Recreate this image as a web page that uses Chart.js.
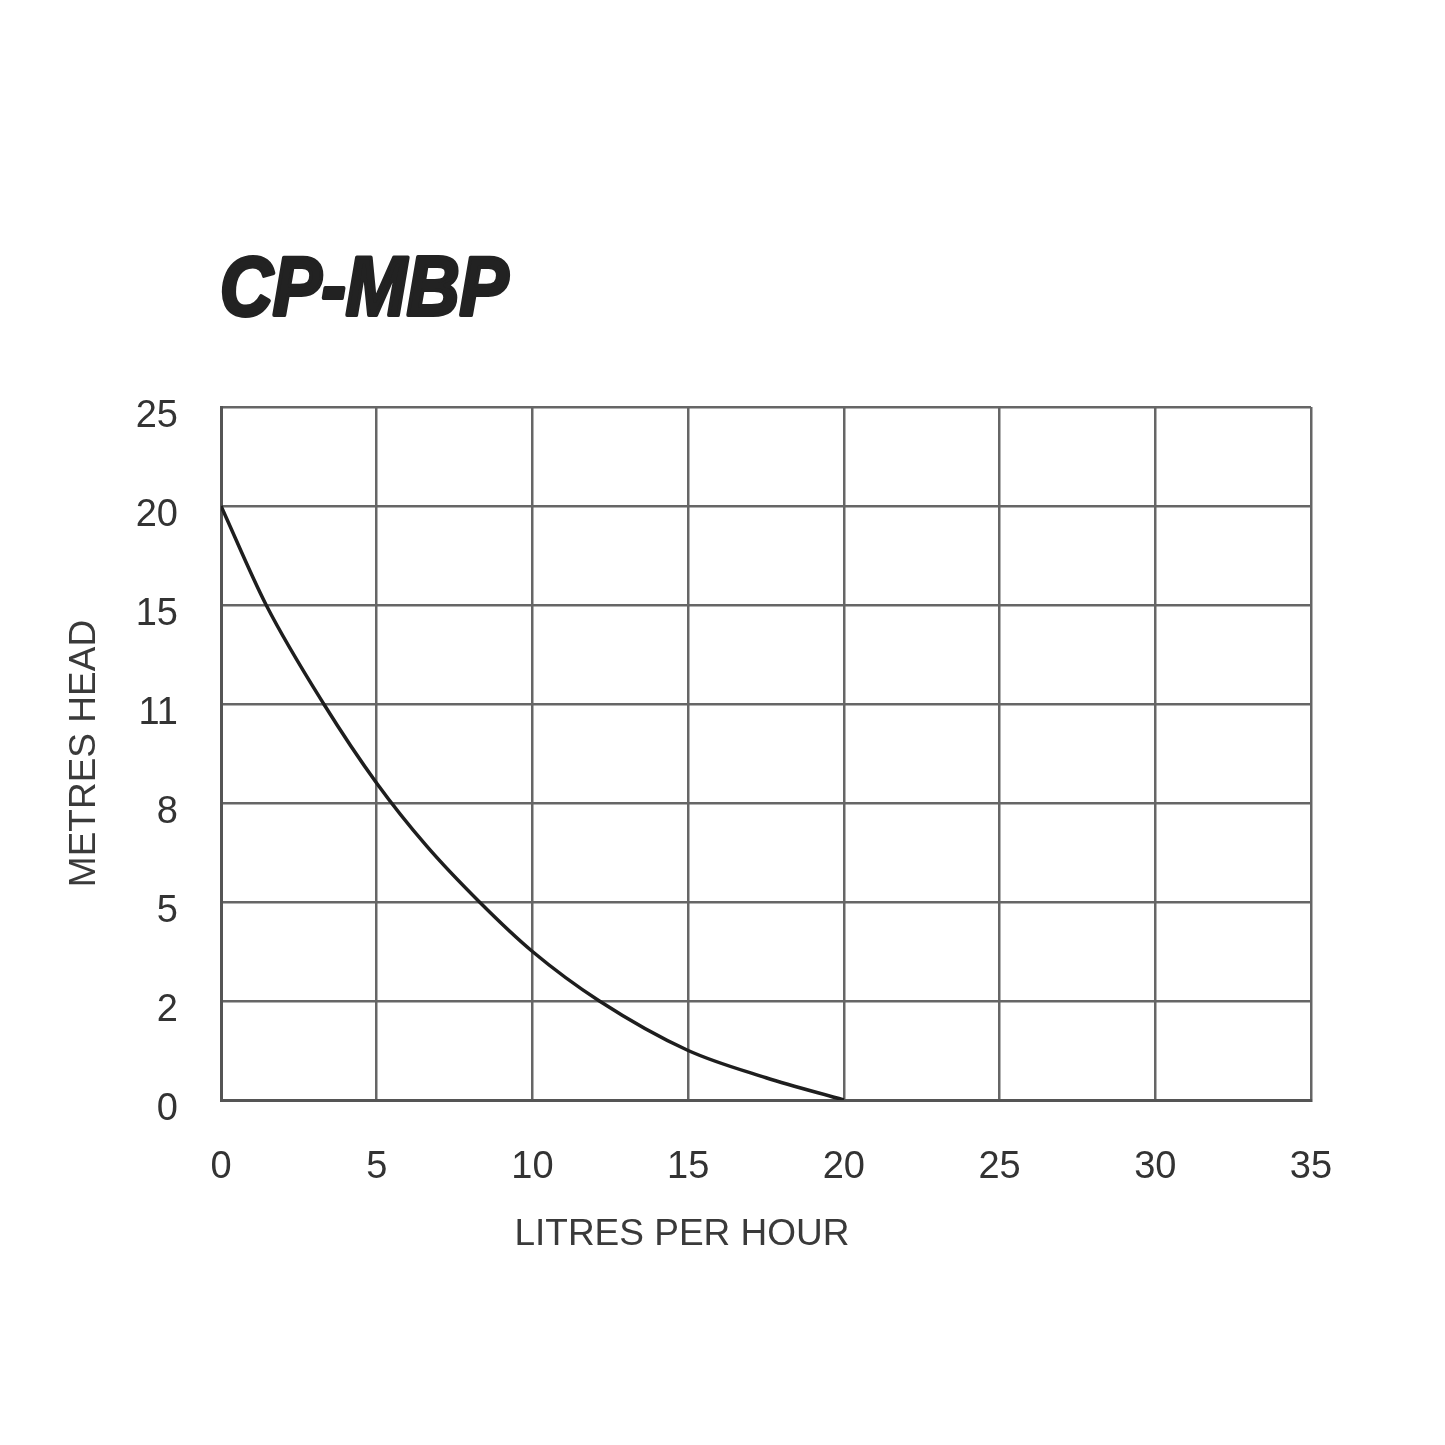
<!DOCTYPE html>
<html>
<head>
<meta charset="utf-8">
<script src="https://cdn.jsdelivr.net/npm/chart.js@4"></script>
<style>
  html, body { margin: 0; padding: 0; background: #fff; }
  #wrap { width: 1445px; height: 1445px; position: relative; }
</style>
</head>
<body>
<div id="wrap"><canvas id="chart"></canvas></div>
<script>
// pump curve
const flowLph = [0, 1.45, 3.3, 5, 6.6, 8.3, 10, 12.15, 15, 17.5, 20];
const headM   = [20, 15, 11, 8.6, 6.7, 5, 3.5, 2, 1, 0.45, 0];

// the head axis is not linear: each label sits on an evenly spaced grid line
const headTicks = [0, 2, 5, 8, 11, 15, 20, 25];
const flowTicks = [0, 5, 10, 15, 20, 25, 30, 35];

const chartTitle = 'CP-MBP';
const xTitle = 'LITRES PER HOUR';
const yTitle = 'METRES HEAD';

// metres -> grid line position (0..7), straight between the labelled lines
function gridPos(v) {
  for (let i = 0; i < headTicks.length - 1; i++) {
    if (v <= headTicks[i + 1]) {
      return i + (v - headTicks[i]) / (headTicks[i + 1] - headTicks[i]);
    }
  }
  return headTicks.length - 1;
}

const points = flowLph.map((x, i) => ({ x: x, y: gridPos(headM[i]) }));

const textPlugin = {
  id: 'texts',
  afterDraw(chart) {
    const ctx = chart.ctx;
    const area = chart.chartArea;
    ctx.save();
    ctx.fillStyle = '#222';

    // big heavy title
    ctx.save();
    ctx.font = 'bold italic 84px "Liberation Sans"';
    ctx.textBaseline = 'alphabetic';
    ctx.translate(220, 315);
    ctx.scale(0.87, 1);
    ctx.lineWidth = 4;
    ctx.lineJoin = 'round';
    ctx.strokeStyle = '#222';
    ctx.fillText(chartTitle, 0, 0);
    ctx.strokeText(chartTitle, 0, 0);
    ctx.restore();

    ctx.fillStyle = '#3a3a3a';
    ctx.font = '37px "Liberation Sans"';
    ctx.textAlign = 'center';
    ctx.textBaseline = 'middle';
    ctx.fillText(xTitle, 682, 1235);

    ctx.save();
    ctx.translate(85, (area.top + area.bottom) / 2);
    ctx.rotate(-Math.PI / 2);
    ctx.fillText(yTitle, 0, 0);
    ctx.restore();

    ctx.restore();
  }
};

new Chart(document.getElementById('chart'), {
  type: 'line',
  data: {
    datasets: [{
      data: points,
      borderColor: '#1e1e1e',
      borderWidth: 3.5,
      pointRadius: 0,
      fill: false,
      cubicInterpolationMode: 'monotone'
    }]
  },
  options: {
    responsive: true,
    maintainAspectRatio: false,
    animation: false,
    layout: { padding: { top: 407, right: 134, left: 0, bottom: 0 } },
    plugins: {
      legend: { display: false },
      tooltip: { enabled: false },
      title: { display: false }
    },
    scales: {
      x: {
        type: 'linear',
        min: flowTicks[0],
        max: flowTicks[flowTicks.length - 1],
        afterBuildTicks(scale) {
          scale.ticks = flowTicks.map(v => ({ value: v }));
        },
        afterFit(scale) { scale.height = 345; },
        grid: { color: '#666', lineWidth: 2.5, drawTicks: false },
        border: { color: '#555', width: 3 },
        ticks: {
          color: '#333',
          font: { family: 'Liberation Sans', size: 38 },
          padding: 45,
          maxRotation: 0
        }
      },
      y: {
        type: 'linear',
        min: 0,
        max: headTicks.length - 1,
        afterBuildTicks(scale) {
          scale.ticks = headTicks.map((t, i) => ({ value: i }));
        },
        afterFit(scale) { scale.width = 221; },
        grid: { color: '#666', lineWidth: 2.5, drawTicks: false },
        border: { color: '#555', width: 3 },
        ticks: {
          color: '#333',
          font: { family: 'Liberation Sans', size: 38 },
          padding: 43,
          labelOffset: 10,
          callback: (v) => headTicks[v]
        }
      }
    }
  },
  plugins: [textPlugin]
});
</script>
</body>
</html>
